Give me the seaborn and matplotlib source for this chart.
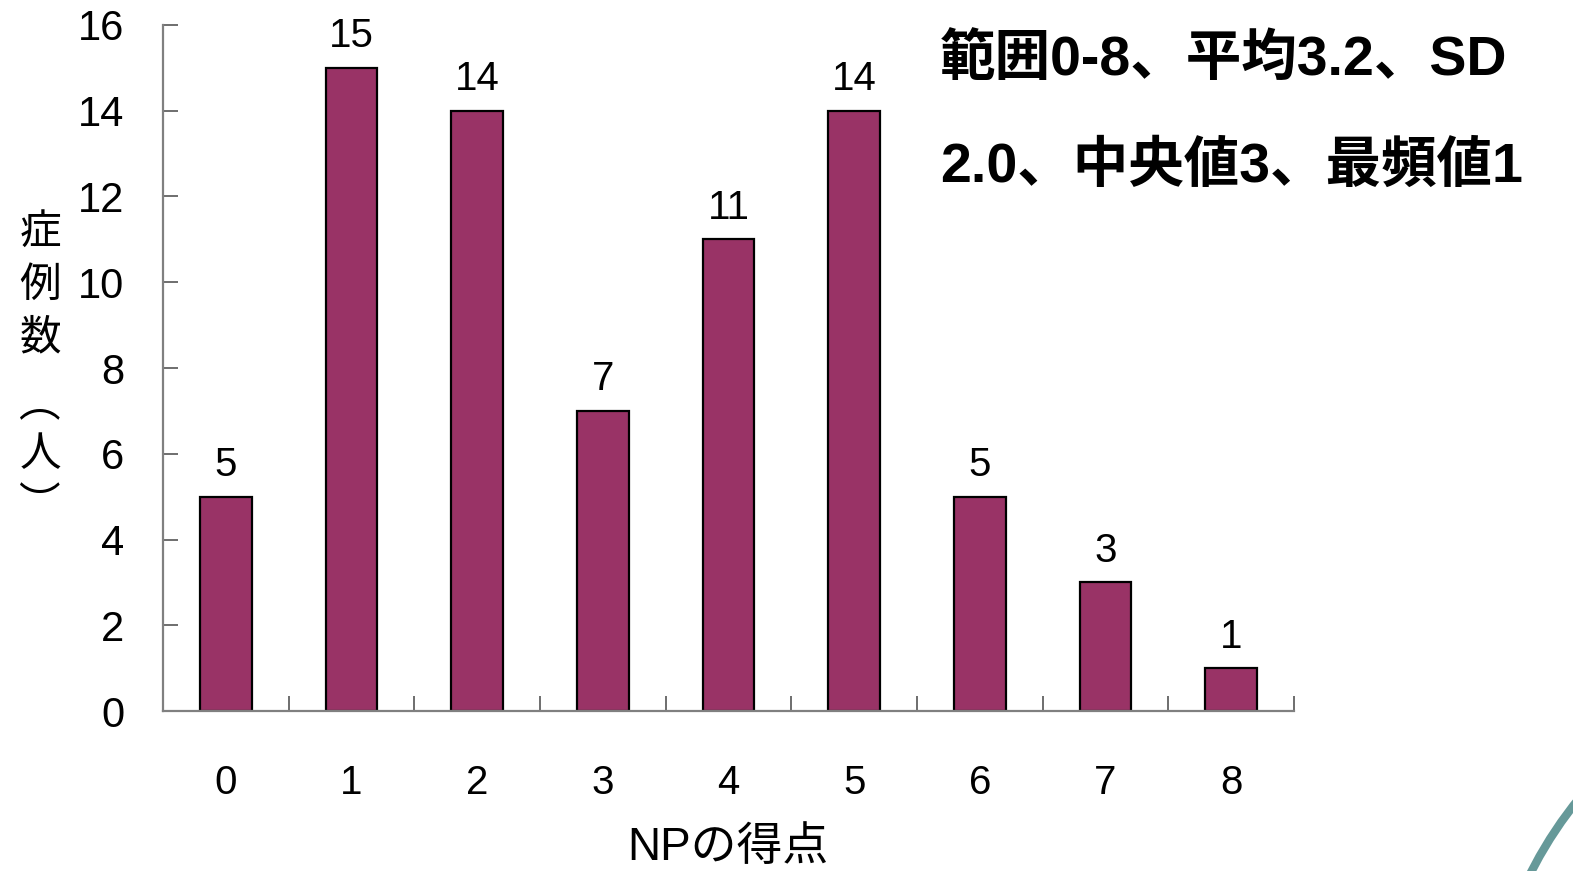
import matplotlib
matplotlib.use("Agg")
import matplotlib.pyplot as plt
import seaborn as sns
import pandas as pd
from matplotlib.patches import Circle

scores = ["0", "1", "2", "3", "4", "5", "6", "7", "8"]
counts = [5, 15, 14, 7, 11, 14, 5, 3, 1]
y_ticks = [0, 2, 4, 6, 8, 10, 12, 14, 16]
x_label = "NPの得点"
y_label_chars = ["症", "例", "数", "︵", "人", "︶"]
summary_lines = ["範囲0-8、平均3.2、SD", "2.0、中央値3、最頻値1"]

sns.set_style("white")
FAM = ["Liberation Sans", "Noto Sans CJK JP", "DejaVu Sans"]
plt.rcParams["font.family"] = FAM
plt.rcParams["text.color"] = "black"
plt.rcParams["xtick.labelcolor"] = "black"
plt.rcParams["ytick.labelcolor"] = "black"

df = pd.DataFrame({"score": scores, "count": counts})

fig = plt.figure(figsize=(15.73, 8.71), dpi=100)
ax = fig.add_axes([163/1573, 1-711/871, (1294-163)/1573, (711-25)/871])

sns.barplot(data=df, x="score", y="count", order=scores, color="#993366",
            saturation=1, edgecolor="black", linewidth=1.6, width=0.41, ax=ax)
for c in ax.containers:
    ax.bar_label(c, labels=[str(v) for v in counts], padding=9, fontsize=29,
                 family=FAM, color="black")

ax.set_xlim(-0.5, 8.5)
ax.set_ylim(0, 16)
ax.set_yticks(y_ticks)
ax.set_yticklabels([str(t) for t in y_ticks])
ax.set_xticks(range(len(scores)))
ax.set_xticks([i - 0.5 for i in range(len(scores) + 1)], minor=True)
ax.tick_params(axis="x", which="major", bottom=True, length=0, pad=38,
               labelsize=29, labelcolor="black")
ax.tick_params(axis="x", which="minor", bottom=True, direction="in", length=11,
               width=1.2, color="#555555")
ax.tick_params(axis="y", which="major", left=True, direction="in", length=11,
               width=1.2, color="#555555", pad=28, labelsize=30,
               labelcolor="black")
for side in ["top", "right"]:
    ax.spines[side].set_visible(False)
for side in ["left", "bottom"]:
    ax.spines[side].set_color("#808080")
    ax.spines[side].set_linewidth(1.6)
ax.set_xlabel("")
ax.set_ylabel("")

fig.text(728/1573, 1-848/871, x_label, ha="center", va="center", fontsize=33,
         family=FAM, color="black")

for ch, yy in zip(y_label_chars, [233, 285, 338, 405, 455, 505]):
    fig.text(40/1573, 1-yy/871, ch, ha="center", va="center", fontsize=30,
             family=["Noto Sans CJK JP", "DejaVu Sans"], color="black")

fig.text(940/1573, 1-60/871, summary_lines[0], ha="left", va="center",
         fontsize=40, fontweight="bold", family=FAM, color="black")
fig.text(940/1573, 1-168/871, summary_lines[1], ha="left", va="center",
         fontsize=40, fontweight="bold", family=FAM, color="black")

fig.add_artist(Circle((19.0, -1.89), 4.14, transform=fig.dpi_scale_trans,
                      fill=False, edgecolor="#669999", linewidth=6))

fig.savefig("out.png", dpi=100)
